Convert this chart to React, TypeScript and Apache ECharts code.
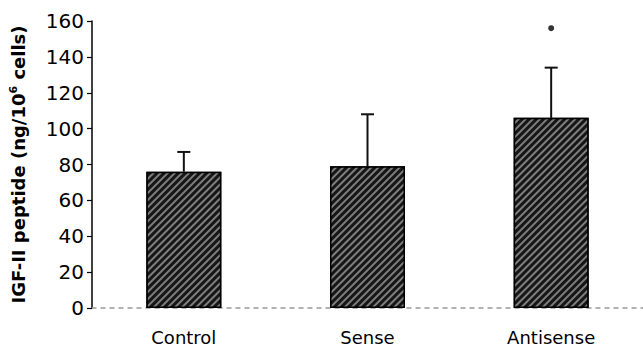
import React, { useEffect, useRef } from "react";
import * as echarts from "echarts";

const categories = ["Control", "Sense", "Antisense"];
const means = [76, 79, 106];
const upperErrors = [87, 108, 134];
const outliers: [string, number][] = [["Antisense", 156]];
const yTicks = { min: 0, max: 160, interval: 20 };

export default function App() {
  const ref = useRef<HTMLDivElement>(null);
  useEffect(() => {
    const chart = echarts.init(ref.current!, null, { renderer: "svg" });
    const font = "Verdana, DejaVu Sans, sans-serif";
    chart.setOption({
      animation: false,
      backgroundColor: "#fff",
      grid: { left: 90, right: 0, top: 21, bottom: 39 },
      xAxis: {
        type: "category",
        data: categories,
        axisLine: { show: true, lineStyle: { color: "#999", type: [4, 5], width: 1.5 } },
        axisTick: { show: false },
        axisLabel: { color: "#000", fontFamily: font, fontSize: 18, margin: 20 },
      },
      yAxis: {
        type: "value",
        min: yTicks.min,
        max: yTicks.max,
        interval: yTicks.interval,
        name: "{a|IGF-II peptide (ng/10}{s|6}{a| cells)}",
        nameLocation: "middle",
        nameGap: 64,
        nameRotate: 90,
        nameTextStyle: {
          rich: {
            a: { fontFamily: font, fontWeight: "bold", fontSize: 18, color: "#000" },
            s: { fontFamily: font, fontWeight: "bold", fontSize: 11, color: "#000", verticalAlign: "bottom", padding: [0, 0, 9, 0] },
          },
        },
        splitLine: { show: false },
        axisLine: { show: true, lineStyle: { color: "#000", width: 1.5 } },
        axisTick: { show: true, length: 5, lineStyle: { color: "#000", width: 1.2 } },
        axisLabel: { color: "#000", fontFamily: font, fontSize: 20, margin: 8 },
      },
      series: [
        {
          type: "bar",
          data: means,
          barWidth: 75,
          itemStyle: {
            color: "#161616",
            borderColor: "#000",
            borderWidth: 1.5,
            decal: {
              symbol: "rect",
              symbolSize: 1,
              dashArrayX: [1, 0],
              dashArrayY: [1.1, 2.4],
              rotation: -Math.PI / 4,
              color: "rgba(160,160,160,0.75)",
            },
          },
          z: 2,
        },
        {
          type: "custom",
          data: categories.map((c, i) => [i, means[i], upperErrors[i]]),
          renderItem: (params: any, api: any) => {
            const i = api.value(0);
            const p0 = api.coord([i, api.value(1)]);
            const p1 = api.coord([i, api.value(2)]);
            return {
              type: "group",
              children: [
                { type: "line", shape: { x1: p0[0], y1: p0[1], x2: p1[0], y2: p1[1] }, style: { stroke: "#111", lineWidth: 2 } },
                { type: "line", shape: { x1: p1[0] - 6.5, y1: p1[1], x2: p1[0] + 6.5, y2: p1[1] }, style: { stroke: "#111", lineWidth: 2 } },
              ],
            };
          },
          z: 1,
        },
        {
          type: "scatter",
          data: outliers,
          symbol: "circle",
          symbolSize: 6,
          itemStyle: { color: "#000" },
          z: 3,
        },
      ],
    });
    return () => chart.dispose();
  }, []);
  return <div ref={ref} style={{ width: 643, height: 347, position: "absolute", left: 0, top: 0 }} />;
}
